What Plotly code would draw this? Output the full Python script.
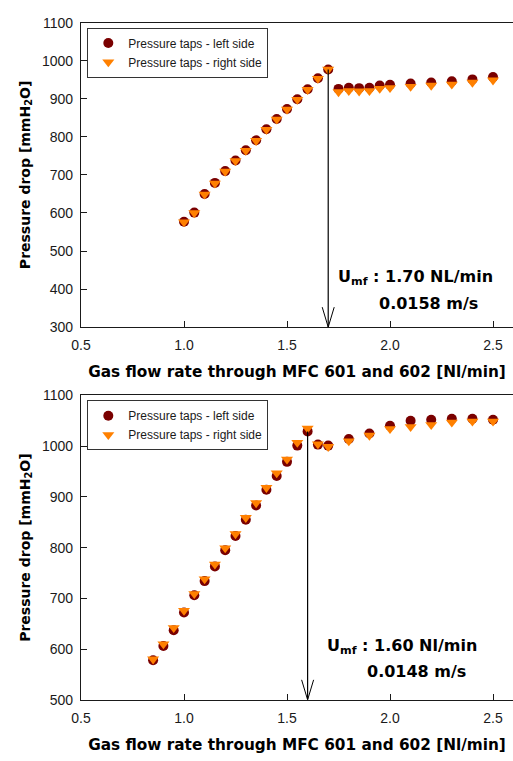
import plotly.graph_objects as go

# ---------------- data ----------------
x_top = [1.00, 1.05, 1.10, 1.15, 1.20, 1.25, 1.30, 1.35, 1.40, 1.45, 1.50, 1.55, 1.60,
         1.65, 1.70, 1.75, 1.80, 1.85, 1.90, 1.95, 2.00, 2.10, 2.20, 2.30, 2.40, 2.50]
left_top = [577, 601, 650, 679, 710, 738, 765, 791, 820, 847, 873, 899, 925,
            954, 977, 926, 929, 928, 929, 935, 937, 940, 943, 946, 951, 957]
right_top = [576, 600, 649, 678, 709, 737, 764, 790, 819, 846, 872, 898, 924,
             953, 977, 918, 921, 920, 921, 927, 929, 932, 935, 938, 943, 949]

x_bot = [0.85, 0.90, 0.95, 1.00, 1.05, 1.10, 1.15, 1.20, 1.25, 1.30, 1.35, 1.40, 1.45,
         1.50, 1.55, 1.60, 1.65, 1.70, 1.80, 1.90, 2.00, 2.10, 2.20, 2.30, 2.40, 2.50]
left_bot = [578, 606, 637, 672, 706, 734, 763, 795, 823, 855, 883, 914, 941,
            969, 1001, 1029, 1003, 1001, 1014, 1025, 1040, 1050, 1052, 1054, 1054, 1052]
right_bot = [580, 610, 642, 676, 709, 738, 767, 799, 827, 859, 888, 918, 947,
             974, 1007, 1035, 1004, 999, 1010, 1021, 1034, 1038, 1042, 1047, 1049, 1049]

umf_top = 1.70
umf_bot = 1.60
umf_top_text = ["U<sub>mf</sub> : 1.70 NL/min", "0.0158 m/s"]
umf_bot_text = ["U<sub>mf</sub> : 1.60 Nl/min", "0.0148 m/s"]

name_left = "Pressure taps - left side"
name_right = "Pressure taps - right side"
x_title = "Gas flow rate through MFC 601 and 602 [Nl/min]"
y_title = "Pressure drop [mmH<sub>2</sub>O]"

y_top_range = [300, 1100]
y_bot_range = [500, 1100]
x_range = [0.5, 2.597]
x_ticks = [0.5, 1.0, 1.5, 2.0, 2.5]

# ---------------- style ----------------
W, H = 513, 761
C_LEFT = "#7a0000"
C_RIGHT = "#ff8000"
AX = "#1a1a1a"
tick_font = dict(family="Liberation Sans, Arial", size=14, color="#1a1a1a")
xtitle_font = dict(family="Verdana, DejaVu Sans", size=15.3, color="#000000", weight="bold")
ytitle_font = dict(family="Verdana, DejaVu Sans", size=14, color="#000000", weight="bold")

fig = go.Figure()

for xs, ls, rs, xa, ya, lg in [
    (x_top, left_top, right_top, "x", "y", "legend"),
    (x_bot, left_bot, right_bot, "x2", "y2", "legend2"),
]:
    fig.add_trace(go.Scatter(x=xs, y=ls, mode="markers", name=name_left,
                             marker=dict(symbol="circle", size=10, color=C_LEFT),
                             xaxis=xa, yaxis=ya, legend=lg))
    fig.add_trace(go.Scatter(x=xs, y=rs, mode="markers", name=name_right,
                             marker=dict(symbol="triangle-down", size=10.5, color=C_RIGHT),
                             xaxis=xa, yaxis=ya, legend=lg))

dom_top = [1 - 326 / H, 1 - 15 / H]
dom_bot = [1 - 706.7 / H, 1 - 395.7 / H]

xcommon = dict(range=x_range, tickvals=x_ticks, tickformat=".1f", ticks="inside",
               ticklen=6, tickcolor=AX, showline=True, linecolor=AX, linewidth=1.2,
               mirror=True, showgrid=False, zeroline=False, tickfont=tick_font,
               title=dict(text=x_title, font=xtitle_font, standoff=14),
               ticklabelstandoff=5)
ycommon = dict(dtick=100, ticks="inside", ticklen=6, tickcolor=AX, showline=True,
               linecolor=AX, linewidth=1.2, showgrid=False, zeroline=False,
               tickfont=tick_font, title=dict(text=y_title, font=ytitle_font, standoff=8),
               ticklabelstandoff=4)

legend_common = dict(xanchor="left", yanchor="top", bordercolor="#333333", borderwidth=1,
                     bgcolor="white", tracegroupgap=0, itemwidth=30,
                     font=dict(family="Liberation Sans, Arial", size=12, color="#1a1a1a"))

fig.update_layout(
    width=W, height=H,
    margin=dict(l=81, r=0, t=0, b=0),
    paper_bgcolor="white", plot_bgcolor="white",
    xaxis=dict(domain=[0, 1], anchor="y", **xcommon),
    yaxis=dict(domain=dom_top, anchor="x", range=y_top_range, **ycommon),
    xaxis2=dict(domain=[0, 1], anchor="y2", **xcommon),
    yaxis2=dict(domain=dom_bot, anchor="x2", range=y_bot_range, **ycommon),
    legend=dict(x=0.0146, y=1 - 20 / H, **legend_common),
    legend2=dict(x=0.0146, y=1 - 400.7 / H, **legend_common),
    showlegend=True,
)

ann_font = dict(family="Verdana, DejaVu Sans", size=16, color="#000000", weight="bold")
shapes = []
annotations = []
for umf, xs, ls, yr, xa, ya, txt, pos in [
    (umf_top, x_top, left_top, y_top_range, "x", "y", umf_top_text, (0.590, 0.164, 0.924, 0.077)),
    (umf_bot, x_bot, left_bot, y_bot_range, "x2", "y2", umf_bot_text, (0.565, 0.174, 0.896, 0.093)),
]:
    ytop = ls[xs.index(umf)]
    shapes.append(dict(type="line", xref=xa, yref=ya, x0=umf, x1=umf, y0=ytop, y1=yr[0],
                       line=dict(color="black", width=1.2)))
    shapes.append(dict(type="path", xref=xa, yref=ya, xsizemode="pixel", ysizemode="pixel",
                       xanchor=umf, yanchor=yr[0], path="M-6,20 L0,0 L6,20",
                       line=dict(color="black", width=1)))
    annotations.append(dict(text=txt[0], xref=xa + " domain", yref=ya + " domain",
                            x=pos[0], y=pos[1], xanchor="left", yanchor="middle",
                            showarrow=False, font=ann_font))
    annotations.append(dict(text=txt[1], xref=xa + " domain", yref=ya + " domain",
                            x=pos[2], y=pos[3], xanchor="right", yanchor="middle",
                            showarrow=False, font=ann_font))

fig.update_layout(shapes=shapes, annotations=annotations)

fig.write_html("out.html", config={"displayModeBar": False},
               post_script="document.body.style.margin='0px';")
